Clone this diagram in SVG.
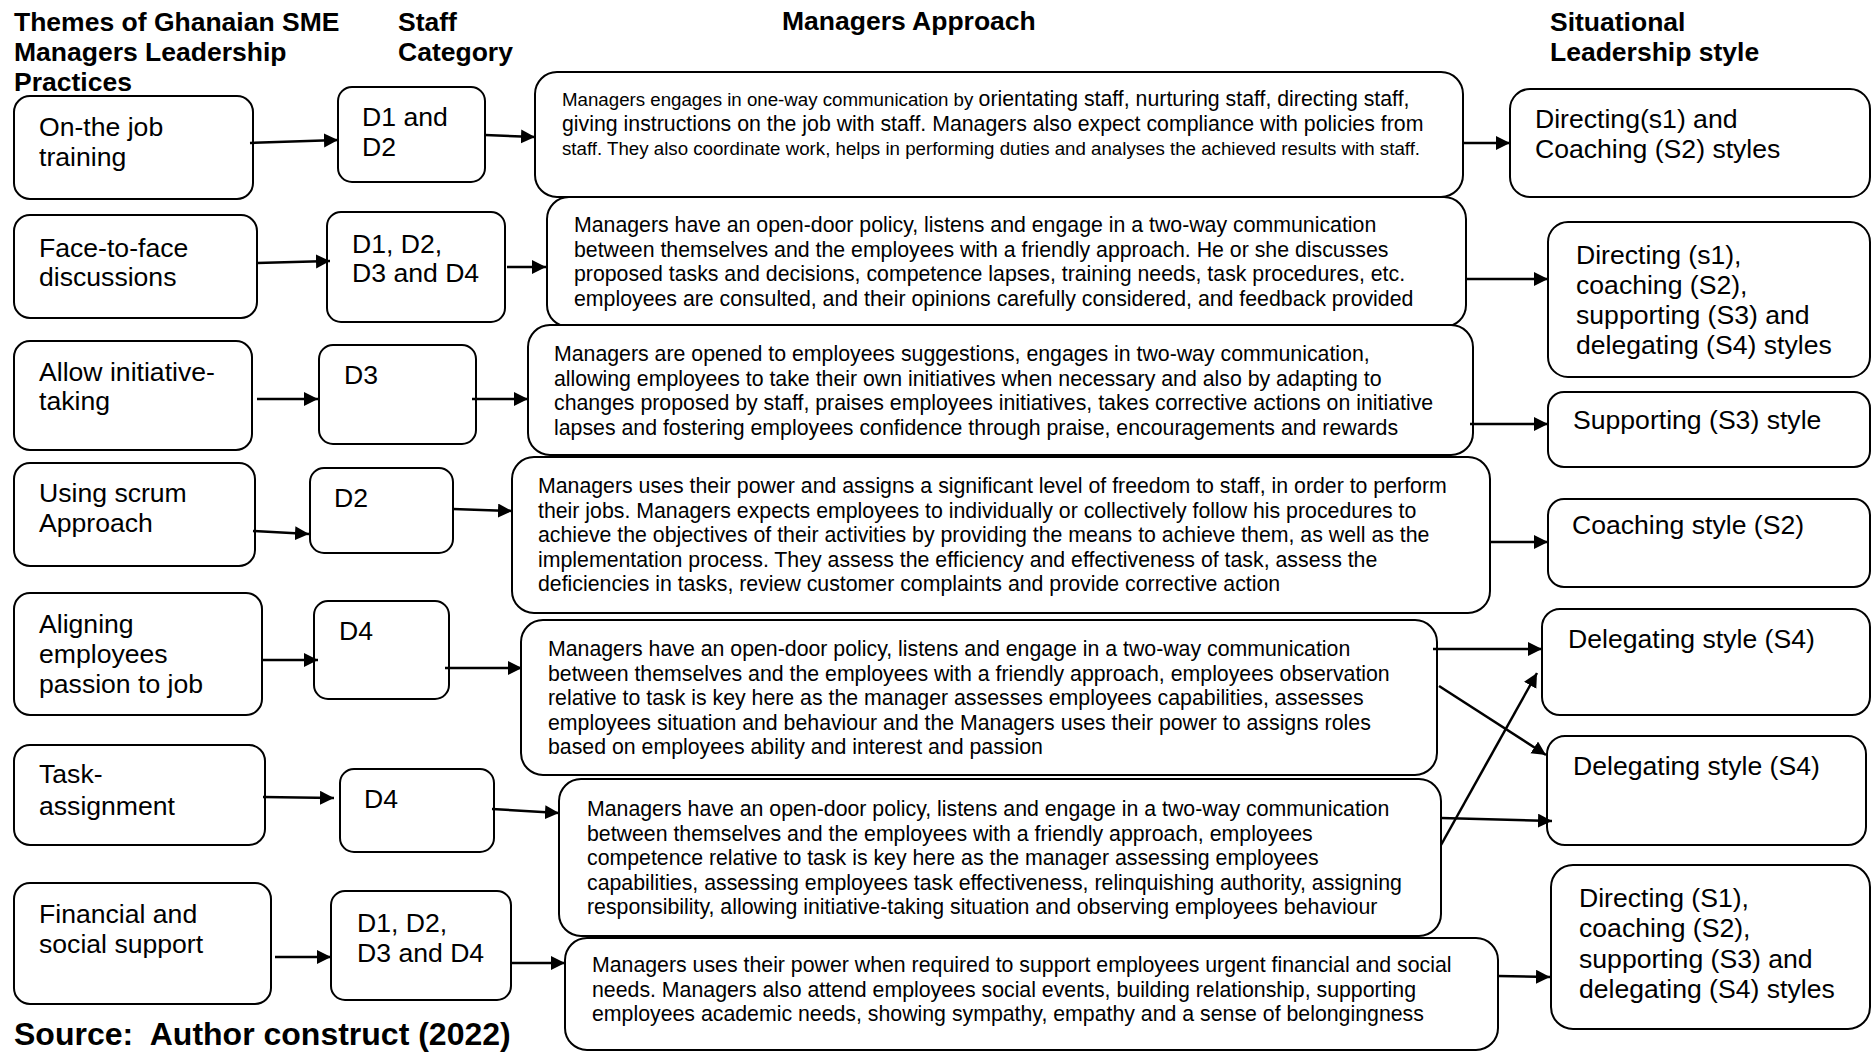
<svg xmlns="http://www.w3.org/2000/svg" width="1872" height="1053" viewBox="0 0 1872 1053">
  <defs>
    <marker id="ah" markerUnits="userSpaceOnUse" markerWidth="15" markerHeight="15" refX="14" refY="7" orient="auto">
      <path d="M0,0 L14,7 L0,14 z" fill="#000"/>
    </marker>
    <style>
      text { font-family: "Liberation Sans", Arial, sans-serif; fill: #000; }
      .box { fill: #fff; stroke: #000; stroke-width: 2; }
      .hd { font-weight: bold; font-size: 26.5px; }
      .src { font-weight: bold; font-size: 32px; }
      .lg { font-size: 26.6px; }
      .ap { font-size: 21.3px; }
      .sm { font-size: 18.7px; }
      .cn { stroke: #000; stroke-width: 2.5; fill: none; marker-end: url(#ah); }
    </style>
  </defs>
  <rect width="1872" height="1053" fill="#fff"/>

  <!-- column headings -->
  <g id="headings">
    <text class="hd" x="14" y="31">Themes of Ghanaian SME</text>
    <text class="hd" x="14" y="61">Managers Leadership</text>
    <text class="hd" x="14" y="91">Practices</text>
    <text class="hd" x="398" y="31">Staff</text>
    <text class="hd" x="398" y="61">Category</text>
    <text class="hd" x="782" y="30">Managers Approach</text>
    <text class="hd" x="1550" y="31">Situational</text>
    <text class="hd" x="1550" y="61">Leadership style</text>
  </g>

  <!-- leadership practice themes -->
  <g id="theme-training"><rect class="box" x="14" y="96" width="239" height="103" rx="16"/>
    <text class="lg" x="39" y="136">On-the job</text><text class="lg" x="39" y="166">training</text></g>
  <g id="theme-discussions"><rect class="box" x="14" y="215" width="243" height="103" rx="16"/>
    <text class="lg" x="39" y="257">Face-to-face</text><text class="lg" x="39" y="286">discussions</text></g>
  <g id="theme-initiative"><rect class="box" x="14" y="341" width="238" height="109" rx="16"/>
    <text class="lg" x="39" y="381">Allow initiative-</text><text class="lg" x="39" y="410">taking</text></g>
  <g id="theme-scrum"><rect class="box" x="14" y="463" width="241" height="103" rx="16"/>
    <text class="lg" x="39" y="502">Using scrum</text><text class="lg" x="39" y="532">Approach</text></g>
  <g id="theme-passion"><rect class="box" x="14" y="593" width="248" height="122" rx="16"/>
    <text class="lg" x="39" y="633">Aligning</text><text class="lg" x="39" y="663">employees</text><text class="lg" x="39" y="693">passion to job</text></g>
  <g id="theme-task"><rect class="box" x="14" y="745" width="251" height="100" rx="16"/>
    <text class="lg" x="39" y="783">Task-</text><text class="lg" x="39" y="815">assignment</text></g>
  <g id="theme-support"><rect class="box" x="14" y="883" width="257" height="121" rx="16"/>
    <text class="lg" x="39" y="923">Financial and</text><text class="lg" x="39" y="953">social support</text></g>

  <!-- staff categories -->
  <g id="staff-1"><rect class="box" x="338" y="87" width="147" height="95" rx="14"/>
    <text class="lg" x="362" y="126">D1 and</text><text class="lg" x="362" y="156">D2</text></g>
  <g id="staff-2"><rect class="box" x="327" y="212" width="178" height="110" rx="14"/>
    <text class="lg" x="352" y="253">D1, D2,</text><text class="lg" x="352" y="282">D3 and D4</text></g>
  <g id="staff-3"><rect class="box" x="319" y="345" width="157" height="99" rx="14"/>
    <text class="lg" x="344" y="384">D3</text></g>
  <g id="staff-4"><rect class="box" x="310" y="468" width="143" height="85" rx="14"/>
    <text class="lg" x="334" y="507">D2</text></g>
  <g id="staff-5"><rect class="box" x="314" y="601" width="135" height="98" rx="14"/>
    <text class="lg" x="339" y="640">D4</text></g>
  <g id="staff-6"><rect class="box" x="340" y="769" width="154" height="83" rx="14"/>
    <text class="lg" x="364" y="808">D4</text></g>
  <g id="staff-7"><rect class="box" x="331" y="891" width="180" height="109" rx="14"/>
    <text class="lg" x="357" y="932">D1, D2,</text><text class="lg" x="357" y="962">D3 and D4</text></g>

  <!-- managers approach -->
  <g id="approach-1"><rect class="box" x="535" y="72" width="928" height="125" rx="22"/>
    <text x="562" y="106"><tspan class="sm">Managers engages in one-way communication by </tspan><tspan class="ap">orientating staff, nurturing staff, directing staff,</tspan></text>
    <text class="ap" x="562" y="130.5">giving instructions on the job with staff. Managers also expect compliance with policies from</text>
    <text class="sm" x="562" y="155">staff. They also coordinate work, helps in performing duties and analyses the achieved results with staff.</text></g>
  <g id="approach-2"><rect class="box" x="547" y="197" width="919" height="130" rx="22"/>
    <text class="ap" x="574" y="232">Managers have an open-door policy, listens and engage in a two-way communication</text>
    <text class="ap" x="574" y="256.5">between themselves and the employees with a friendly approach. He or she discusses</text>
    <text class="ap" x="574" y="281">proposed tasks and decisions, competence lapses, training needs, task procedures, etc.</text>
    <text class="ap" x="574" y="305.5">employees are consulted, and their opinions carefully considered, and feedback provided</text></g>
  <g id="approach-3"><rect class="box" x="528" y="325" width="945" height="130" rx="22"/>
    <text class="ap" x="554" y="361">Managers are opened to employees suggestions, engages in two-way communication,</text>
    <text class="ap" x="554" y="385.5">allowing employees to take their own initiatives when necessary and also by adapting to</text>
    <text class="ap" x="554" y="410">changes proposed by staff, praises employees initiatives, takes corrective actions on initiative</text>
    <text class="ap" x="554" y="434.5">lapses and fostering employees confidence through praise, encouragements and rewards</text></g>
  <g id="approach-4"><rect class="box" x="512" y="457" width="978" height="156" rx="22"/>
    <text class="ap" x="538" y="493">Managers uses their power and assigns a significant level of freedom to staff, in order to perform</text>
    <text class="ap" x="538" y="517.5">their jobs. Managers expects employees to individually or collectively follow his procedures to</text>
    <text class="ap" x="538" y="542">achieve the objectives of their activities by providing the means to achieve them, as well as the</text>
    <text class="ap" x="538" y="566.5">implementation process. They assess the efficiency and effectiveness of task, assess the</text>
    <text class="ap" x="538" y="591">deficiencies in tasks, review customer complaints and provide corrective action</text></g>
  <g id="approach-5"><rect class="box" x="521" y="620" width="916" height="155" rx="22"/>
    <text class="ap" x="548" y="656">Managers have an open-door policy, listens and engage in a two-way communication</text>
    <text class="ap" x="548" y="680.5">between themselves and the employees with a friendly approach, employees observation</text>
    <text class="ap" x="548" y="705">relative to task is key here as the manager assesses employees capabilities, assesses</text>
    <text class="ap" x="548" y="729.5">employees situation and behaviour and the Managers uses their power to assigns roles</text>
    <text class="ap" x="548" y="754">based on employees ability and interest and passion</text></g>
  <g id="approach-6"><rect class="box" x="559" y="779" width="882" height="157" rx="22"/>
    <text class="ap" x="587" y="816">Managers have an open-door policy, listens and engage in a two-way communication</text>
    <text class="ap" x="587" y="840.5">between themselves and the employees with a friendly approach, employees</text>
    <text class="ap" x="587" y="865">competence relative to task is key here as the manager assessing employees</text>
    <text class="ap" x="587" y="889.5">capabilities, assessing employees task effectiveness, relinquishing authority, assigning</text>
    <text class="ap" x="587" y="914">responsibility, allowing initiative-taking situation and observing employees behaviour</text></g>
  <g id="approach-7"><rect class="box" x="565" y="938" width="933" height="112" rx="22"/>
    <text class="ap" x="592" y="972">Managers uses their power when required to support employees urgent financial and social</text>
    <text class="ap" x="592" y="996.5">needs. Managers also attend employees social events, building relationship, supporting</text>
    <text class="ap" x="592" y="1021">employees academic needs, showing sympathy, empathy and a sense of belongingness</text></g>

  <!-- situational leadership styles -->
  <g id="style-1"><rect class="box" x="1510" y="89" width="360" height="108" rx="20"/>
    <text class="lg" x="1535" y="128">Directing(s1) and</text><text class="lg" x="1535" y="158">Coaching (S2) styles</text></g>
  <g id="style-2"><rect class="box" x="1548" y="222" width="322" height="155" rx="20"/>
    <text class="lg" x="1576" y="264">Directing (s1),</text><text class="lg" x="1576" y="294">coaching (S2),</text>
    <text class="lg" x="1576" y="324">supporting (S3) and</text><text class="lg" x="1576" y="354">delegating (S4) styles</text></g>
  <g id="style-3"><rect class="box" x="1548" y="392" width="322" height="75" rx="16"/>
    <text class="lg" x="1573" y="429">Supporting (S3) style</text></g>
  <g id="style-4"><rect class="box" x="1548" y="499" width="322" height="88" rx="16"/>
    <text class="lg" x="1572" y="534">Coaching style (S2)</text></g>
  <g id="style-5"><rect class="box" x="1542" y="609" width="328" height="106" rx="18"/>
    <text class="lg" x="1568" y="648">Delegating style (S4)</text></g>
  <g id="style-6"><rect class="box" x="1547" y="736" width="319" height="109" rx="18"/>
    <text class="lg" x="1573" y="775">Delegating style (S4)</text></g>
  <g id="style-7"><rect class="box" x="1551" y="865" width="319" height="164" rx="22"/>
    <text class="lg" x="1579" y="907">Directing (S1),</text><text class="lg" x="1579" y="937">coaching (S2),</text>
    <text class="lg" x="1579" y="968">supporting (S3) and</text><text class="lg" x="1579" y="998">delegating (S4) styles</text></g>

  <text id="source" class="src" x="14" y="1045">Source:&#160; Author construct (2022)</text>

  <!-- connectors -->
  <g id="connectors">
    <line class="cn" x1="250" y1="143" x2="338" y2="140"/>
    <line class="cn" x1="257" y1="263" x2="330" y2="261"/>
    <line class="cn" x1="257" y1="399" x2="318" y2="399"/>
    <line class="cn" x1="253" y1="531" x2="309" y2="534"/>
    <line class="cn" x1="263" y1="660" x2="318" y2="660"/>
    <line class="cn" x1="263" y1="797" x2="334" y2="798"/>
    <line class="cn" x1="275" y1="957" x2="331" y2="957"/>

    <line class="cn" x1="485" y1="135" x2="535" y2="137"/>
    <line class="cn" x1="507" y1="267" x2="546" y2="267"/>
    <line class="cn" x1="472" y1="399" x2="528" y2="399"/>
    <line class="cn" x1="453" y1="509" x2="512" y2="511"/>
    <line class="cn" x1="445" y1="668" x2="522" y2="668"/>
    <line class="cn" x1="492" y1="809" x2="559" y2="813"/>
    <line class="cn" x1="511" y1="963" x2="565" y2="963"/>

    <line class="cn" x1="1463" y1="143" x2="1510" y2="143"/>
    <line class="cn" x1="1466" y1="279" x2="1548" y2="279"/>
    <line class="cn" x1="1470" y1="424" x2="1548" y2="424"/>
    <line class="cn" x1="1490" y1="542" x2="1548" y2="542"/>
    <line class="cn" x1="1433" y1="649" x2="1542" y2="649"/>
    <line class="cn" x1="1439" y1="686" x2="1546" y2="755"/>
    <line class="cn" x1="1441" y1="845" x2="1537" y2="673"/>
    <line class="cn" x1="1441" y1="818" x2="1552" y2="821"/>
    <line class="cn" x1="1498" y1="976" x2="1550" y2="977"/>
  </g>
</svg>
